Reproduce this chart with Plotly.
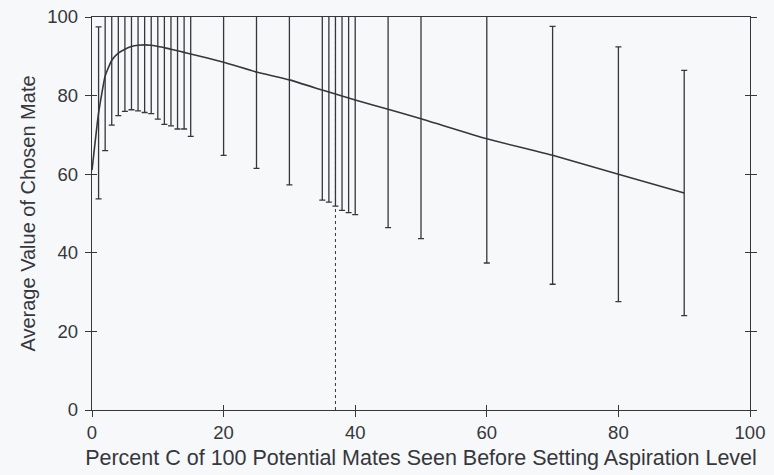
import plotly.graph_objects as go

# Percent C seen before setting aspiration level (positions of error bars)
c_values = [1, 2, 3, 4, 5, 6, 7, 8, 9, 10, 11, 12, 13, 14, 15,
            20, 25, 30, 35, 36, 37, 38, 39, 40, 45, 50, 60, 70, 80, 90]
# Average value of chosen mate at each C
mean_values = [75.6, 85.0, 89.0, 90.8, 91.8, 92.5, 92.8, 92.9, 92.8, 92.5,
               92.2, 91.8, 91.4, 91.0, 90.6,
               88.5, 86.0, 84.0, 81.4, 80.9, 80.4, 79.9, 79.4, 78.9,
               76.5, 74.1, 69.0, 64.8, 60.0, 55.2]
# Half-length of the error bars (standard deviation)
sd_values = [21.9, 19.0, 16.5, 15.9, 15.8, 16.1, 16.7, 17.2, 17.4, 18.5,
             19.5, 19.5, 19.9, 19.5, 21.0,
             23.7, 24.5, 26.7, 28.0, 28.0, 28.5, 29.1, 29.2, 29.2,
             30.1, 30.5, 31.6, 32.8, 32.4, 31.2]

# Curve starts at C = 0
curve_c = [0] + c_values
curve_mean = [61.0] + mean_values

# Dotted reference line at the 37% rule
rule_c = [37, 37]
rule_y = [0, 100]

x_ticks = [0, 20, 40, 60, 80, 100]
y_ticks = [0, 20, 40, 60, 80, 100]

ink = "#35373c"
bg = "#f7f8fa"
font_family = "Liberation Sans, Arial, sans-serif"

fig = go.Figure()

fig.add_trace(go.Scatter(
    x=rule_c, y=rule_y, mode="lines",
    line=dict(color=ink, width=1, dash="dot"),
    showlegend=False, hoverinfo="skip",
))

fig.add_trace(go.Scatter(
    x=c_values, y=mean_values, mode="markers",
    marker=dict(size=1, color=ink, opacity=0),
    error_y=dict(type="data", array=sd_values, symmetric=True,
                 color=ink, thickness=1.3, width=3),
    showlegend=False, hoverinfo="skip",
))

fig.add_trace(go.Scatter(
    x=curve_c, y=curve_mean, mode="lines",
    line=dict(color=ink, width=1.6, shape="spline", smoothing=0.4),
    showlegend=False,
))

# invisible trace to anchor the overlay axes (inside half of crossing ticks)
fig.add_trace(go.Scatter(x=[None], y=[None], xaxis="x2", yaxis="y2",
                         showlegend=False, hoverinfo="skip"))

fig.update_layout(
    width=774, height=475,
    margin=dict(l=92, r=24, t=17, b=65),
    paper_bgcolor=bg, plot_bgcolor=bg,
    font=dict(family=font_family, color=ink),
    xaxis=dict(
        range=[0, 100], tickvals=x_ticks, ticks="outside", ticklen=6,
        tickwidth=1.2, tickcolor=ink, showline=True, linecolor=ink,
        linewidth=1.3, mirror=True, showgrid=False, zeroline=False,
        automargin=False,
        tickfont=dict(size=18.5, color=ink),
        title=dict(text="Percent C of 100 Potential Mates Seen Before Setting Aspiration Level",
                   font=dict(size=21.5, color=ink), standoff=7),
    ),
    yaxis=dict(
        range=[0, 100], tickvals=y_ticks, ticks="outside", ticklen=6,
        tickwidth=1.2, tickcolor=ink, showline=True, linecolor=ink,
        linewidth=1.3, mirror="ticks", showgrid=False, zeroline=False,
        automargin=False, ticklabelstandoff=3,
        tickfont=dict(size=18.5, color=ink),
        title=dict(text="Average Value of Chosen Mate",
                   font=dict(size=20, color=ink), standoff=6),
    ),
    xaxis2=dict(
        overlaying="x", range=[0, 100], tickvals=x_ticks, ticks="inside",
        ticklen=5, tickwidth=1.2, tickcolor=ink, showticklabels=False,
        showline=False, showgrid=False, zeroline=False, side="bottom",
        automargin=False,
    ),
    yaxis2=dict(
        overlaying="y", range=[0, 100], tickvals=y_ticks, ticks="inside",
        ticklen=5, tickwidth=1.2, tickcolor=ink, showticklabels=False,
        showline=False, showgrid=False, zeroline=False, side="left",
        mirror="ticks", automargin=False,
    ),
)

fig.write_html(
    "out.html",
    config={"displayModeBar": False},
    post_script="document.body.style.margin='0';document.body.style.background='%s';" % bg,
)
